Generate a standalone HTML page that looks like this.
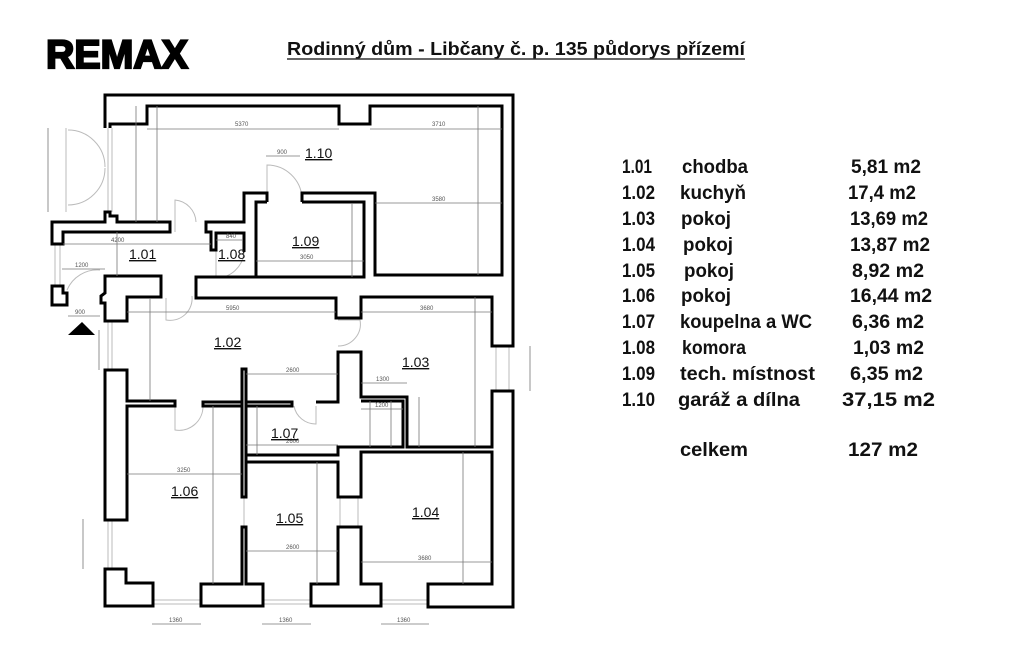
<!DOCTYPE html>
<html><head><meta charset="utf-8"><style>
html,body{margin:0;padding:0;background:#fff;}
svg{display:block;}
.w{fill:#fff;stroke:#000;stroke-width:3;stroke-linejoin:miter;}
.l{fill:none;stroke:#000;stroke-width:3;}
.t{fill:none;stroke:#bbb;stroke-width:1;}
.d{fill:none;stroke:#777;stroke-width:0.8;}
.dt{font-family:"Liberation Sans",sans-serif;font-size:6px;fill:#555;}
.rl{font-family:"Liberation Sans",sans-serif;font-size:14px;fill:#111;text-decoration:underline;}
.tb{font-family:"Liberation Sans",sans-serif;font-size:19px;font-weight:bold;fill:#111;}
</style></head><body>
<svg width="1024" height="669" viewBox="0 0 1024 669" xmlns="http://www.w3.org/2000/svg">
<rect width="1024" height="669" fill="#fff"/>
<!-- logo and title -->
<text x="46" y="68" font-family="Liberation Sans,sans-serif" font-size="40" font-weight="900" textLength="142" lengthAdjust="spacingAndGlyphs" fill="#000" stroke="#000" stroke-width="2.2">REMAX</text>
<text x="287" y="55" font-family="Liberation Sans,sans-serif" font-size="18" font-weight="bold" textLength="458" lengthAdjust="spacingAndGlyphs" fill="#111">Rodinný dům - Libčany č. p. 135 půdorys přízemí</text>
<line x1="287" y1="59" x2="745" y2="59" stroke="#333" stroke-width="1.5"/>

<!-- thin lines: windows / doors -->
<g class="t">
<line x1="108" y1="128" x2="108" y2="212"/><line x1="112" y1="128" x2="112" y2="212"/>
<path d="M68 130 A37 37 0 0 1 105 167 M68 205 A37 37 0 0 0 105 168"/>
<line x1="66" y1="128" x2="66" y2="212"/>
<line x1="55" y1="244" x2="55" y2="286"/><line x1="60" y1="244" x2="60" y2="286"/>
<path d="M67 290 A33 33 0 0 1 100 270"/>
<line x1="108" y1="321" x2="108" y2="370"/><line x1="112" y1="321" x2="112" y2="370"/>
<line x1="108" y1="520" x2="108" y2="569"/><line x1="112" y1="520" x2="112" y2="569"/>
<line x1="153" y1="600" x2="201" y2="600"/><line x1="153" y1="604" x2="201" y2="604"/>
<line x1="263" y1="600" x2="311" y2="600"/><line x1="263" y1="604" x2="311" y2="604"/>
<line x1="381" y1="600" x2="428" y2="600"/><line x1="381" y1="604" x2="428" y2="604"/>
<line x1="496" y1="346" x2="496" y2="391"/><line x1="509" y1="346" x2="509" y2="391"/>
<path d="M175 232 L175 200 A23 23 0 0 1 196 222"/>
<path d="M267 202 L267 165 A35 35 0 0 1 302 198"/>
<path d="M216 250 L216 278 A28 28 0 0 0 244 252"/>
<path d="M166 298 L166 320 A22 22 0 0 0 192 296"/>
<path d="M338 320 L360 320 A22 22 0 0 1 338 346"/>
<path d="M175 406 L175 430 A24 24 0 0 0 203 406"/>
<path d="M316 406 L316 424 A22 22 0 0 1 294 406"/>
<line x1="244" y1="497" x2="244" y2="527"/><line x1="340" y1="497" x2="340" y2="527"/><line x1="358" y1="497" x2="358" y2="527"/>
</g>

<!-- walls -->
<polygon class="w" points="52,244 52,222 105,222 105,212 110,212 110,216 117,216 117,222 170,222 170,232 63,232 63,244"/>
<polygon class="w" points="52,286 63,286 63,293 67,293 67,305 52,305"/>
<polygon class="w" points="105,276 161,276 161,297 127,297 127,321 105,321 105,303 101,303 101,296 105,293"/>
<polygon points="68,335 95,335 82,322" fill="#000"/>
<polyline class="l" points="105,128 105,95 513,95 513,346 492,346 492,297 361,297 361,318 336,318 336,298 196,298 196,277 256,277"/>
<polyline class="l" points="110,128 110,124 147,124 147,106 339,106 339,124 370,124 370,106 502,106 502,275 375,275 375,193 302,193 302,202"/>
<polyline class="l" points="267,202 267,193 244,193 244,222 206,222 206,232 211,232 211,250 216,250 216,233 244,233 244,252"/>
<polyline class="l" points="267,202 256,202 256,277 364,277 364,202 302,202"/>
<polygon class="w" points="105,370 127,370 127,401 175,401 175,406 127,406 127,520 105,520"/>
<rect class="w" x="203" y="402" width="89" height="4"/>
<rect class="w" x="242" y="369" width="4" height="128"/>
<polyline class="l" points="316,402 338,402 338,352 361,352 361,397 407,397 407,447 492,447 492,391 513,391 513,607 428,607 428,584 492,584 492,452 361,452 361,497 338,497 338,462 246,462"/>
<polyline class="l" points="361,401 403,401 403,447 338,447 338,455 246,455"/>
<polygon class="w" points="105,569 126,569 126,583 153,583 153,606 105,606"/>
<polygon class="w" points="201,584 242,584 242,527 246,527 246,584 263,584 263,606 201,606"/>
<polygon class="w" points="311,584 338,584 338,527 361,527 361,584 381,584 381,606 311,606"/>

<!-- dimension lines -->
<g class="d">
<line x1="147" y1="129" x2="339" y2="129"/><line x1="370" y1="129" x2="502" y2="129"/>
<line x1="266" y1="156" x2="300" y2="156"/><line x1="375" y1="203" x2="502" y2="203"/>
<line x1="478" y1="106" x2="478" y2="275"/><line x1="136" y1="106" x2="136" y2="222"/><line x1="157" y1="106" x2="157" y2="222"/>
<line x1="48" y1="128" x2="48" y2="212"/>
<line x1="63" y1="244" x2="211" y2="244"/><line x1="117" y1="232" x2="117" y2="276"/>
<line x1="62" y1="269" x2="105" y2="269"/><line x1="216" y1="240" x2="243" y2="240"/>
<line x1="256" y1="261" x2="364" y2="261"/><line x1="352" y1="203" x2="352" y2="277"/>
<line x1="127" y1="312" x2="336" y2="312"/><line x1="361" y1="312" x2="492" y2="312"/>
<line x1="68" y1="316" x2="100" y2="316"/><line x1="99" y1="330" x2="99" y2="370"/>
<line x1="150" y1="298" x2="150" y2="401"/><line x1="246" y1="374" x2="338" y2="374"/>
<line x1="361" y1="383" x2="407" y2="383"/><line x1="475" y1="297" x2="475" y2="447"/>
<line x1="419" y1="397" x2="419" y2="447"/><line x1="530" y1="346" x2="530" y2="391"/>
<line x1="361" y1="409" x2="403" y2="409"/><line x1="370" y1="401" x2="370" y2="447"/><line x1="391" y1="401" x2="391" y2="447"/>
<line x1="257" y1="406" x2="257" y2="455"/><line x1="246" y1="445" x2="338" y2="445"/>
<line x1="127" y1="474" x2="242" y2="474"/><line x1="213" y1="406" x2="213" y2="584"/>
<line x1="246" y1="551" x2="338" y2="551"/><line x1="317" y1="462" x2="317" y2="584"/>
<line x1="361" y1="562" x2="492" y2="562"/><line x1="463" y1="452" x2="463" y2="584"/>
<line x1="83" y1="519" x2="83" y2="569"/>
<line x1="152" y1="624" x2="201" y2="624"/><line x1="262" y1="624" x2="311" y2="624"/><line x1="381" y1="624" x2="429" y2="624"/>
</g>
<g class="dt">
<text x="235" y="126">5370</text><text x="432" y="126">3710</text><text x="277" y="154">900</text>
<text x="432" y="201">3580</text><text x="111" y="242">4200</text><text x="75" y="267">1200</text>
<text x="226" y="238">840</text><text x="300" y="259">3050</text><text x="75" y="314">900</text>
<text x="226" y="310">5950</text><text x="420" y="310">3680</text><text x="286" y="372">2600</text>
<text x="376" y="381">1300</text><text x="375" y="407">1200</text><text x="286" y="443">2600</text>
<text x="177" y="472">3250</text><text x="286" y="549">2600</text><text x="418" y="560">3680</text>
<text x="169" y="622">1360</text><text x="279" y="622">1360</text><text x="397" y="622">1360</text>
</g>

<!-- room labels -->
<g class="rl">
<text x="305" y="158">1.10</text><text x="292" y="246">1.09</text><text x="129" y="259">1.01</text>
<text x="218" y="259">1.08</text><text x="214" y="347">1.02</text><text x="402" y="367">1.03</text>
<text x="271" y="438">1.07</text><text x="171" y="496">1.06</text><text x="276" y="523">1.05</text>
<text x="412" y="517">1.04</text>
</g>

<!-- table -->
<g class="tb">
<text x="622" y="173" textLength="30" lengthAdjust="spacingAndGlyphs">1.01</text><text x="682" y="173" textLength="66" lengthAdjust="spacingAndGlyphs">chodba</text><text x="851" y="173" textLength="70" lengthAdjust="spacingAndGlyphs">5,81 m2</text>
<text x="622" y="199" textLength="33" lengthAdjust="spacingAndGlyphs">1.02</text><text x="680" y="199" textLength="66" lengthAdjust="spacingAndGlyphs">kuchyň</text><text x="848" y="199" textLength="68" lengthAdjust="spacingAndGlyphs">17,4 m2</text>
<text x="622" y="225" textLength="33" lengthAdjust="spacingAndGlyphs">1.03</text><text x="681" y="225" textLength="50" lengthAdjust="spacingAndGlyphs">pokoj</text><text x="850" y="225" textLength="78" lengthAdjust="spacingAndGlyphs">13,69 m2</text>
<text x="622" y="251" textLength="33" lengthAdjust="spacingAndGlyphs">1.04</text><text x="683" y="251" textLength="50" lengthAdjust="spacingAndGlyphs">pokoj</text><text x="850" y="251" textLength="80" lengthAdjust="spacingAndGlyphs">13,87 m2</text>
<text x="622" y="277" textLength="33" lengthAdjust="spacingAndGlyphs">1.05</text><text x="684" y="277" textLength="50" lengthAdjust="spacingAndGlyphs">pokoj</text><text x="852" y="277" textLength="72" lengthAdjust="spacingAndGlyphs">8,92 m2</text>
<text x="622" y="302" textLength="33" lengthAdjust="spacingAndGlyphs">1.06</text><text x="681" y="302" textLength="50" lengthAdjust="spacingAndGlyphs">pokoj</text><text x="850" y="302" textLength="82" lengthAdjust="spacingAndGlyphs">16,44 m2</text>
<text x="622" y="328" textLength="33" lengthAdjust="spacingAndGlyphs">1.07</text><text x="680" y="328" textLength="132" lengthAdjust="spacingAndGlyphs">koupelna a WC</text><text x="852" y="328" textLength="72" lengthAdjust="spacingAndGlyphs">6,36 m2</text>
<text x="622" y="354" textLength="33" lengthAdjust="spacingAndGlyphs">1.08</text><text x="682" y="354" textLength="64" lengthAdjust="spacingAndGlyphs">komora</text><text x="853" y="354" textLength="71" lengthAdjust="spacingAndGlyphs">1,03 m2</text>
<text x="622" y="380" textLength="33" lengthAdjust="spacingAndGlyphs">1.09</text><text x="680" y="380" textLength="135" lengthAdjust="spacingAndGlyphs">tech. místnost</text><text x="850" y="380" textLength="73" lengthAdjust="spacingAndGlyphs">6,35 m2</text>
<text x="622" y="406" textLength="33" lengthAdjust="spacingAndGlyphs">1.10</text><text x="678" y="406" textLength="122" lengthAdjust="spacingAndGlyphs">garáž a dílna</text><text x="842" y="406" textLength="93" lengthAdjust="spacingAndGlyphs">37,15 m2</text>
<text x="680" y="456" textLength="68" lengthAdjust="spacingAndGlyphs">celkem</text><text x="848" y="456" textLength="70" lengthAdjust="spacingAndGlyphs">127 m2</text>
</g>
</svg>
</body></html>
